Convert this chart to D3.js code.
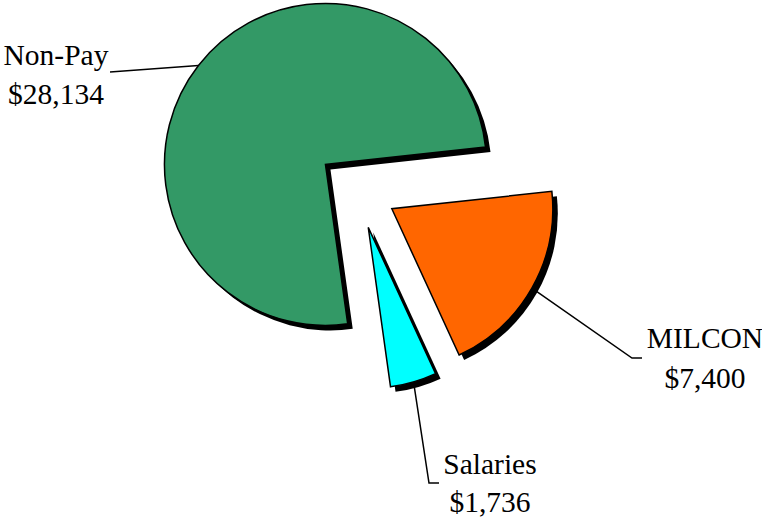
<!DOCTYPE html>
<html>
<head>
<meta charset="utf-8">
<script src="https://cdn.jsdelivr.net/npm/d3@7"></script>
<style>
  body { margin: 0; background: #fff; }
</style>
</head>
<body>
<div id="chart"></div>
<script>
const categories = ["MILCON", "Salaries", "Non-Pay"];
const values = [7400, 1736, 28134];
const valueLabels = ["$7,400", "$1,736", "$28,134"];
const colors = ["#FF6600", "#00FFFF", "#339966"];

document.addEventListener('DOMContentLoaded', function () {
    const width = 762,
        height = 519,
        cx = 357,
        cy = 189,
        radius = 161,
        explode = 40,
        shadow = 5,
        fontSize = 29.5;

    // label layout: text centre x, first baseline y, line gap, leader elbow and end
    const labelLayout = [
        { x: 705, y: 348, gap: 40, elbow: [632, 358], end: [642, 358] },
        { x: 490, y: 474, gap: 38, elbow: [429, 483], end: [439, 483] },
        { x: 56,  y: 65,  gap: 39, elbow: [110, 72],  end: [110, 72] }
    ];

    const svg = d3.select("#chart")
        .append("svg")
        .attr("width", width)
        .attr("height", height);

    const rad = d => d * Math.PI / 180;
    const start = rad(83.8);

    const pie = d3.pie()
        .sort(null)
        .startAngle(start)
        .endAngle(start + 2 * Math.PI);

    const arcs = pie(values).map((d, i) => {
        const mid = (d.startAngle + d.endAngle) / 2;
        d.dx = Math.sin(mid) * explode;
        d.dy = -Math.cos(mid) * explode;
        d.mid = mid;
        d.i = i;
        return d;
    });

    const arc = d3.arc()
        .innerRadius(0)
        .outerRadius(radius);

    const g = svg.append("g")
        .attr("transform", "translate(" + cx + "," + cy + ")");

    // leader lines (under slices)
    g.selectAll(".leader")
        .data(arcs)
        .enter()
        .append("polyline")
        .attr("class", "leader")
        .attr("fill", "none")
        .attr("stroke", "#000")
        .attr("stroke-width", 1.5)
        .attr("points", d => {
            const L = labelLayout[d.i];
            const p0 = [d.dx + Math.sin(d.mid) * radius, d.dy - Math.cos(d.mid) * radius];
            return [p0, [L.elbow[0] - cx, L.elbow[1] - cy], [L.end[0] - cx, L.end[1] - cy]]
                .map(p => p.join(",")).join(" ");
        });

    // shadows
    g.selectAll(".shadow")
        .data(arcs)
        .enter()
        .append("path")
        .attr("class", "shadow")
        .attr("d", arc)
        .attr("fill", "#000")
        .attr("transform", d => "translate(" + (d.dx + shadow) + "," + (d.dy + shadow) + ")");

    // slices
    g.selectAll(".slice")
        .data(arcs)
        .enter()
        .append("path")
        .attr("class", "slice")
        .attr("d", arc)
        .attr("fill", (d, i) => colors[i])
        .attr("stroke", "#000")
        .attr("stroke-width", 1.5)
        .attr("transform", d => "translate(" + d.dx + "," + d.dy + ")");

    // labels
    const labels = svg.selectAll(".label")
        .data(arcs)
        .enter()
        .append("text")
        .attr("class", "label")
        .attr("text-anchor", "middle")
        .attr("font-family", "'Liberation Serif', 'Times New Roman', serif")
        .attr("font-size", fontSize)
        .attr("fill", "#000");

    labels.append("tspan")
        .attr("x", d => labelLayout[d.i].x)
        .attr("y", d => labelLayout[d.i].y)
        .text(d => categories[d.i]);

    labels.append("tspan")
        .attr("x", d => labelLayout[d.i].x)
        .attr("y", d => labelLayout[d.i].y + labelLayout[d.i].gap)
        .text(d => valueLabels[d.i]);
});
</script>
</body>
</html>
